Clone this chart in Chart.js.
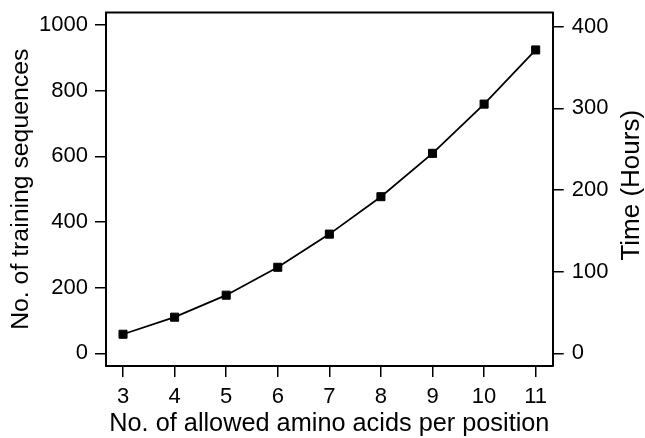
<!DOCTYPE html>
<html>
<head>
<meta charset="utf-8">
<script src="https://cdn.jsdelivr.net/npm/chart.js@4.4.0/dist/chart.umd.min.js"></script>
<style>
  html, body { margin: 0; padding: 0; background: #fff; }
  #wrap { width: 645px; height: 438px; }
</style>
</head>
<body>
<div id="wrap"><canvas id="chart" width="645" height="438"></canvas></div>
<script>
// values
const aminoAcids = [3, 4, 5, 6, 7, 8, 9, 10, 11];
const trainingSeqs = [58, 110, 177, 262, 363, 477, 609, 759, 924];
const leftTicks = [0, 200, 400, 600, 800, 1000];
const rightTicks = [0, 100, 200, 300, 400];
const xTicks = [3, 4, 5, 6, 7, 8, 9, 10, 11];

const FONT = '"Liberation Sans", Arial, Helvetica, sans-serif';
const tickFont = { family: FONT, size: 22 };

const grid = { display: true, drawOnChartArea: false, tickLength: 11, color: '#000', lineWidth: 1.5 };
const border = { display: true, color: '#000', width: 2 };

const setTicks = (vals) => (scale) => { scale.ticks = vals.map(v => ({ value: v })); };
const plain = (v) => String(v);

// top edge of the box + right-hand title (reads bottom to top like the left one)
const frameAndTitle = {
  id: 'frameAndTitle',
  afterDraw(chart) {
    const { ctx, chartArea: a } = chart;
    ctx.save();
    ctx.strokeStyle = '#000';
    ctx.lineWidth = 2;
    ctx.beginPath();
    ctx.moveTo(a.left - 1, a.top);
    ctx.lineTo(a.right + 1, a.top);
    ctx.stroke();

    ctx.translate(632, (a.top + a.bottom) / 2 - 4);
    ctx.rotate(-Math.PI / 2);
    ctx.font = `26px ${FONT}`;
    ctx.fillStyle = '#000';
    ctx.textAlign = 'center';
    ctx.textBaseline = 'middle';
    ctx.fillText('Time (Hours)', 0, 0);
    ctx.restore();
  }
};

new Chart(document.getElementById('chart'), {
  type: 'line',
  data: {
    datasets: [{
      data: aminoAcids.map((x, i) => ({ x, y: trainingSeqs[i] })),
      yAxisID: 'y',
      borderColor: '#000',
      borderWidth: 1.8,
      backgroundColor: '#000',
      pointStyle: 'rect',
      pointRadius: 5.7,
      pointBorderWidth: 1,
      pointBorderColor: '#000',
      pointBackgroundColor: '#000',
      tension: 0,
      fill: false
    }]
  },
  options: {
    responsive: false,
    devicePixelRatio: 1,
    animation: false,
    layout: { padding: { top: 12.5, left: 0, right: 0, bottom: 0 } },
    plugins: { legend: { display: false }, tooltip: { enabled: false } },
    scales: {
      x: {
        type: 'linear',
        position: 'bottom',
        min: 2.67,
        max: 11.33,
        afterBuildTicks: setTicks(xTicks),
        ticks: { font: tickFont, color: '#000', padding: 7, maxRotation: 0, autoSkip: false, callback: plain },
        grid, border,
        title: {
          display: true, text: 'No. of allowed amino acids per position',
          color: '#000', font: { family: FONT, size: 25.3, lineHeight: 1 }, padding: { top: 0, bottom: 1 }
        },
        afterFit(s) { s.height = 72; s.paddingLeft = 0; s.paddingRight = 0; }
      },
      y: {
        position: 'left',
        min: -38.7,
        max: 1038,
        afterBuildTicks: setTicks(leftTicks),
        ticks: { font: tickFont, color: '#000', padding: 7, callback: plain },
        grid, border,
        title: {
          display: true, text: 'No. of training sequences',
          color: '#000', font: { family: FONT, size: 24.8, lineHeight: 1 }, padding: { top: 8.6, bottom: 0 }
        },
        afterFit(s) { s.width = 106; s.paddingTop = 0; s.paddingBottom = 0; }
      },
      y2: {
        position: 'right',
        min: -15.5,
        max: 417.4,
        afterBuildTicks: setTicks(rightTicks),
        ticks: { font: tickFont, color: '#000', padding: 8, callback: plain },
        grid, border,
        title: { display: false },
        afterFit(s) { s.width = 92.3; s.paddingTop = 0; s.paddingBottom = 0; }
      }
    }
  },
  plugins: [frameAndTitle]
});
</script>
</body>
</html>
